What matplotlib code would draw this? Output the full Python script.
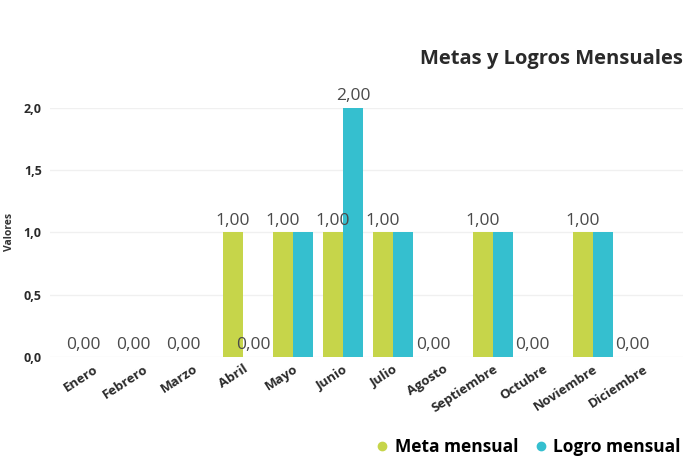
import matplotlib.pyplot as plt
import numpy as np

meses = ["Enero", "Febrero", "Marzo", "Abril", "Mayo", "Junio", "Julio",
         "Agosto", "Septiembre", "Octubre", "Noviembre", "Diciembre"]
meta = [0, 0, 0, 1, 1, 1, 1, 0, 1, 0, 1, 0]
logro = [0, 0, 0, 0, 1, 2, 1, 0, 1, 0, 1, 0]
y_ticks = [0.0, 0.5, 1.0, 1.5, 2.0]

c_meta = "#C6D54A"
c_logro = "#35BFCF"

plt.rcParams['font.family'] = ['Open Sans', 'DejaVu Sans']

fig = plt.figure(figsize=(6.96, 4.57), dpi=100)
ax = fig.add_axes([0.072, 0.219, 0.909, 0.545])

x = np.arange(len(meses))
w = 0.4
ax.bar(x - w / 2, meta, w, color=c_meta, label="Meta mensual", zorder=3)
ax.bar(x + w / 2, logro, w, color=c_logro, label="Logro mensual", zorder=3)

def fmt(v):
    return f"{v:.2f}".replace(".", ",")

for xi, v in zip(x, meta):
    ax.text(xi - w / 2, v + 0.03, fmt(v), ha="center", va="bottom",
            fontsize=12.5, color="#4a4a4a", clip_on=False, zorder=4)
# las etiquetas de logro que chocan con la de meta se ocultan
for xi, v, m in zip(x, logro, meta):
    if v != m:
        ax.text(xi + w / 2, v + 0.03, fmt(v), ha="center", va="bottom",
                fontsize=12.5, color="#4a4a4a", clip_on=False, zorder=4)

ax.set_xlim(-0.86, 11.8)
ax.set_ylim(0, 2.0)
ax.set_yticks(y_ticks)
ax.set_yticklabels([f"{t:.1f}".replace(".", ",") for t in y_ticks],
                   fontsize=9, fontweight="bold", color="#2a2a2a")
ax.set_xticks(x)
ax.set_xticklabels(meses, rotation=33, ha="right", rotation_mode="anchor",
                   fontsize=9.5, fontweight="bold", color="#2a2a2a")
ax.tick_params(length=0, pad=4)
ax.tick_params(axis="y", pad=6)
ax.grid(axis="y", color="#f0f0f0", linewidth=1, zorder=0)
for s in ax.spines.values():
    s.set_visible(False)

ax.set_ylabel("Valores", fontsize=7.5, fontweight="bold", color="#333333", labelpad=6)

fig.text(0.981, 0.87, "Metas y Logros Mensuales", ha="right", va="center",
         fontsize=14.5, fontweight="bold", color="#2a2a2a")

ax.legend(handles=[
    plt.Line2D([], [], marker="o", ls="", color=c_meta, markersize=6, label="Meta mensual"),
    plt.Line2D([], [], marker="o", ls="", color=c_logro, markersize=6, label="Logro mensual")],
    loc="center right", bbox_to_anchor=(1.0, 0.022), bbox_transform=fig.transFigure,
    ncol=2, frameon=False, handletextpad=-0.3, columnspacing=0.3,
    prop={"weight": "bold", "size": 12.5})

fig.savefig("out.png", dpi=100)
